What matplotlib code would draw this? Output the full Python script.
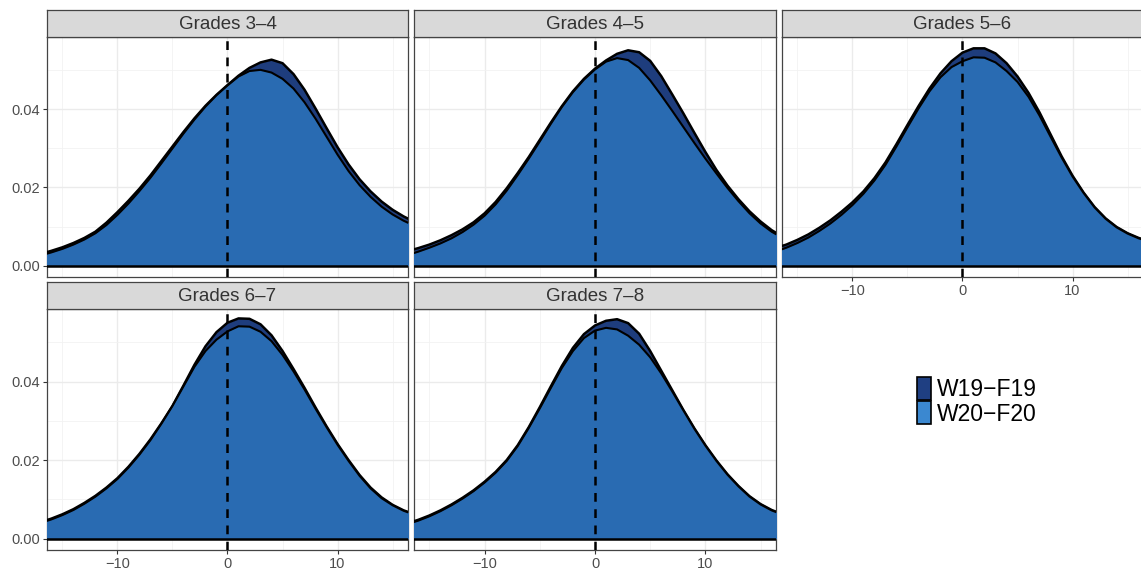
import numpy as np
import matplotlib.pyplot as plt
from matplotlib.patches import Patch

plt.rcParams['font.family'] = ['Liberation Sans', 'DejaVu Sans']

# score difference grid (same for every panel)
x_vals = np.arange(-17, 18)

panels = ["Grades 3\u20134", "Grades 4\u20135", "Grades 5\u20136", "Grades 6\u20137", "Grades 7\u20138"]
series = ["W19\u2212F19", "W20\u2212F20"]

# densities, W19-F19 (dark)
w19_g34 = [0.0030, 0.0038, 0.0047, 0.0058, 0.0071, 0.0087, 0.0110, 0.0137, 0.0166, 0.0197, 0.0231, 0.0268,
           0.0305, 0.0342, 0.0377, 0.0409, 0.0437, 0.0462, 0.0486, 0.0506, 0.0520, 0.0527, 0.0518, 0.0490,
           0.0450, 0.0402, 0.0352, 0.0303, 0.0259, 0.0221, 0.0190, 0.0164, 0.0143, 0.0126, 0.0112]
w19_g45 = [0.0037, 0.0045, 0.0054, 0.0065, 0.0078, 0.0093, 0.0111, 0.0134, 0.0163, 0.0198, 0.0237, 0.0278,
           0.0322, 0.0366, 0.0408, 0.0446, 0.0478, 0.0504, 0.0525, 0.0542, 0.0551, 0.0546, 0.0524, 0.0485,
           0.0438, 0.0390, 0.0340, 0.0291, 0.0245, 0.0205, 0.0170, 0.0139, 0.0113, 0.0091, 0.0074]
w19_g56 = [0.0045, 0.0054, 0.0066, 0.0080, 0.0097, 0.0116, 0.0138, 0.0162, 0.0190, 0.0224, 0.0264, 0.0311,
           0.0360, 0.0408, 0.0453, 0.0492, 0.0523, 0.0545, 0.0556, 0.0556, 0.0543, 0.0518, 0.0484, 0.0442,
           0.0392, 0.0336, 0.0280, 0.0230, 0.0187, 0.0150, 0.0121, 0.0099, 0.0083, 0.0071, 0.0062]
w19_g67 = [0.0042, 0.0051, 0.0062, 0.0075, 0.0091, 0.0109, 0.0130, 0.0154, 0.0183, 0.0216, 0.0253, 0.0294,
           0.0338, 0.0390, 0.0443, 0.0490, 0.0526, 0.0550, 0.0561, 0.0560, 0.0546, 0.0518, 0.0478, 0.0432,
           0.0384, 0.0334, 0.0286, 0.0241, 0.0200, 0.0162, 0.0130, 0.0105, 0.0086, 0.0072, 0.0062]
w19_g78 = [0.0039, 0.0048, 0.0059, 0.0072, 0.0087, 0.0104, 0.0123, 0.0145, 0.0170, 0.0200, 0.0238, 0.0284,
           0.0335, 0.0388, 0.0440, 0.0486, 0.0521, 0.0543, 0.0555, 0.0559, 0.0549, 0.0522, 0.0478, 0.0428,
           0.0378, 0.0328, 0.0281, 0.0238, 0.0199, 0.0164, 0.0134, 0.0108, 0.0088, 0.0073, 0.0062]

# W20-F20 (lighter blue)
w20_g34 = [0.0026, 0.0034, 0.0043, 0.0054, 0.0067, 0.0083, 0.0104, 0.0130, 0.0159, 0.0191, 0.0225, 0.0262,
           0.0300, 0.0338, 0.0374, 0.0407, 0.0436, 0.0461, 0.0484, 0.0498, 0.0501, 0.0494, 0.0478, 0.0453,
           0.0418, 0.0376, 0.0330, 0.0284, 0.0242, 0.0206, 0.0176, 0.0151, 0.0131, 0.0115, 0.0102]
w20_g45 = [0.0027, 0.0036, 0.0046, 0.0057, 0.0070, 0.0086, 0.0105, 0.0128, 0.0157, 0.0192, 0.0232, 0.0274,
           0.0318, 0.0363, 0.0406, 0.0444, 0.0476, 0.0502, 0.0522, 0.0531, 0.0526, 0.0506, 0.0474, 0.0436,
           0.0396, 0.0355, 0.0314, 0.0274, 0.0236, 0.0199, 0.0165, 0.0134, 0.0108, 0.0087, 0.0071]
w20_g56 = [0.0036, 0.0046, 0.0058, 0.0072, 0.0089, 0.0108, 0.0130, 0.0155, 0.0184, 0.0218, 0.0258, 0.0305,
           0.0354, 0.0402, 0.0446, 0.0482, 0.0508, 0.0523, 0.0533, 0.0532, 0.0520, 0.0498, 0.0470, 0.0432,
           0.0384, 0.0330, 0.0277, 0.0228, 0.0186, 0.0149, 0.0120, 0.0098, 0.0082, 0.0070, 0.0061]
w20_g67 = [0.0040, 0.0049, 0.0060, 0.0073, 0.0089, 0.0107, 0.0128, 0.0152, 0.0181, 0.0214, 0.0251, 0.0293,
           0.0338, 0.0388, 0.0438, 0.0478, 0.0507, 0.0528, 0.0541, 0.0540, 0.0527, 0.0503, 0.0468, 0.0426,
           0.0380, 0.0331, 0.0284, 0.0239, 0.0198, 0.0160, 0.0128, 0.0103, 0.0085, 0.0071, 0.0061]
w20_g78 = [0.0037, 0.0046, 0.0057, 0.0070, 0.0085, 0.0102, 0.0121, 0.0143, 0.0168, 0.0198, 0.0236, 0.0282,
           0.0332, 0.0384, 0.0435, 0.0478, 0.0511, 0.0530, 0.0537, 0.0533, 0.0517, 0.0494, 0.0462, 0.0421,
           0.0375, 0.0327, 0.0280, 0.0237, 0.0198, 0.0163, 0.0133, 0.0107, 0.0087, 0.0072, 0.0061]

w19 = [w19_g34, w19_g45, w19_g56, w19_g67, w19_g78]
w20 = [w20_g34, w20_g45, w20_g56, w20_g67, w20_g78]

x_ticks = [-10, 0, 10]
y_ticks = [0.00, 0.02, 0.04]
y_tick_labels = ["0.00", "0.02", "0.04"]

dark_fill = "#1e3d7d"
light_fill = "#296bb2"

W, H = 1141, 569
fig = plt.figure(figsize=(W / 100, H / 100), dpi=100)

def rect(x0, y0, x1, y1):
    # pixel box (top-left origin) -> figure fraction
    return [x0 / W, 1 - y1 / H, (x1 - x0) / W, (y1 - y0) / H]

col_x = [(47, 408), (414, 776), (782, 1143)]
row_y = [((10, 37), (37, 277)), ((282, 309), (309, 550))]

for i, name in enumerate(panels):
    r, c = divmod(i, 3)
    (sy0, sy1), (py0, py1) = row_y[r]
    x0, x1 = col_x[c]
    ax = fig.add_axes(rect(x0, py0, x1, py1))
    ax.set_xlim(-16.4, 16.4)
    ax.set_ylim(-0.0029, 0.0585)

    ax.set_xticks([-15, -5, 5, 15], minor=True)
    ax.set_yticks([0.01, 0.03, 0.05], minor=True)
    ax.grid(which='major', color='#ebebeb', lw=1.0)
    ax.grid(which='minor', color='#f2f2f2', lw=0.6)
    ax.set_axisbelow(True)

    ax.fill_between(x_vals, 0, w19[i], color=dark_fill, lw=0, zorder=2)
    ax.plot(x_vals, w19[i], color='black', lw=1.8, zorder=3, solid_joinstyle='round')
    ax.fill_between(x_vals, 0, w20[i], color=light_fill, lw=0, zorder=4)
    ax.plot(x_vals, w20[i], color='black', lw=1.5, zorder=5, solid_joinstyle='round')
    ax.axhline(0, color='black', lw=1.8, zorder=6)
    ax.axvline(0, color='black', lw=1.8, ls=(0, (3.5, 3)), zorder=7)

    for s in ax.spines.values():
        s.set_color('#444444')
        s.set_linewidth(0.9)

    ax.set_xticks(x_ticks)
    ax.set_yticks(y_ticks)
    ax.tick_params(which='minor', length=0)
    ax.tick_params(which='major', color='#333333', length=3, width=0.8,
                   labelsize=10.5, labelcolor='#4d4d4d', pad=2)
    if c == 0:
        ax.set_yticklabels(y_tick_labels)
    else:
        ax.tick_params(axis='y', left=False, labelleft=False)
    if r == 1 or c == 2:
        ax.set_xticklabels(["\u221210", "0", "10"])
    else:
        ax.tick_params(axis='x', bottom=False, labelbottom=False)

    sax = fig.add_axes(rect(x0, sy0, x1, sy1))
    sax.set_facecolor('#d9d9d9')
    sax.set_xticks([])
    sax.set_yticks([])
    for s in sax.spines.values():
        s.set_color('#444444')
        s.set_linewidth(0.9)
    sax.text(0.5, 0.47, name, ha='center', va='center', fontsize=13.5, color='#333333',
             transform=sax.transAxes)

handles = [Patch(facecolor="#1f3f82", edgecolor='black', lw=1.2),
           Patch(facecolor="#3b88d0", edgecolor='black', lw=1.2)]
fig.legend(handles, series, loc='upper left', bbox_to_anchor=(899 / W, 1 - 359 / H),
           frameon=False, fontsize=16.5, handlelength=0.6, handleheight=1.15,
           handletextpad=0.25, labelspacing=0.0, borderpad=0.3)

fig.savefig('out.png', dpi=100)
